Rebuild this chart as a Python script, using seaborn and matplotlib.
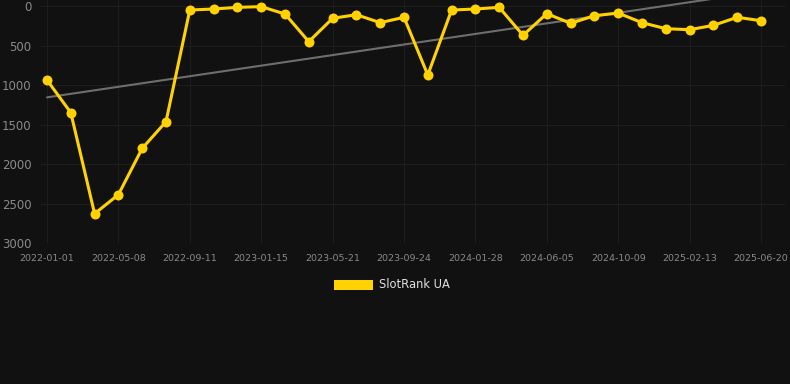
import matplotlib
matplotlib.use("Agg")
import matplotlib.pyplot as plt
import numpy as np
import pandas as pd
import seaborn as sns
from matplotlib.patches import Patch

# data
dates = [
    "2022-01-01", "2022-02-12", "2022-03-26", "2022-05-08", "2022-06-19",
    "2022-07-31", "2022-09-11", "2022-10-23", "2022-12-04", "2023-01-15",
    "2023-02-26", "2023-04-09", "2023-05-21", "2023-07-02", "2023-08-13",
    "2023-09-24", "2023-11-05", "2023-12-17", "2024-01-28", "2024-03-10",
    "2024-04-23", "2024-06-05", "2024-07-17", "2024-08-28", "2024-10-09",
    "2024-11-20", "2025-01-01", "2025-02-13", "2025-03-28", "2025-05-09",
    "2025-06-20",
]
ranks = [
    937, 1350, 2629, 2388, 1802, 1464, 51, 38, 17, 8,
    101, 451, 156, 110, 211, 143, 873, 51, 38, 17,
    371, 97, 219, 123, 89, 211, 287, 300, 245, 143,
    186,
]
y_ticks = [0, 500, 1000, 1500, 2000, 2500, 3000]
series_name = "SlotRank UA"

BG = "#111111"
GOLD = "#FFD200"

df = pd.DataFrame({"pos": np.arange(len(dates)), "date": dates, "rank": ranks})

sns.set_style("dark")
fig = plt.figure(figsize=(7.9, 3.84), dpi=100, facecolor=BG)
ax = fig.add_axes([40 / 790, 1 - 243 / 384, 745 / 790, 243 / 384])
ax.set_facecolor(BG)

# trend line (linear fit of the ranks)
sns.regplot(
    data=df, x="pos", y="rank", scatter=False, ci=None, truncate=True,
    line_kws={"color": "#6e6e6e", "linewidth": 1.5, "zorder": 2}, ax=ax,
)
sns.lineplot(
    data=df, x="pos", y="rank", color=GOLD, linewidth=2.2,
    marker="o", markersize=7.2, markeredgewidth=0, zorder=3, ax=ax,
)

ax.set_xlim(-7 / 23.8, 30 + 24 / 23.8)
ax.set_ylim(3000, -76)
ax.set_yticks(y_ticks)
ax.set_yticklabels([str(v) for v in y_ticks])
ax.set_xticks(df["pos"][::3])
ax.set_xticklabels(df["date"][::3])

ax.grid(True, color="#1d1d1d", linewidth=0.8)
ax.set_axisbelow(True)
for s in ax.spines.values():
    s.set_visible(False)
ax.tick_params(axis="y", colors="#8a8a8a", labelsize=8.5, length=0, pad=6)
ax.tick_params(axis="x", colors="#8a8a8a", labelsize=6.8, length=0, pad=8)
ax.set_xlabel("")
ax.set_ylabel("")

handle = Patch(facecolor=GOLD, edgecolor="none")
fig.legend(
    handles=[handle], labels=[series_name], loc="center",
    bbox_to_anchor=(392 / 790, 1 - 285 / 384), frameon=False,
    labelcolor="#e0e0e0", fontsize=8.3, handlelength=3.4, handleheight=0.95,
    handletextpad=0.5,
)

fig.savefig("out.png", dpi=100, facecolor=BG)
plt.close(fig)
